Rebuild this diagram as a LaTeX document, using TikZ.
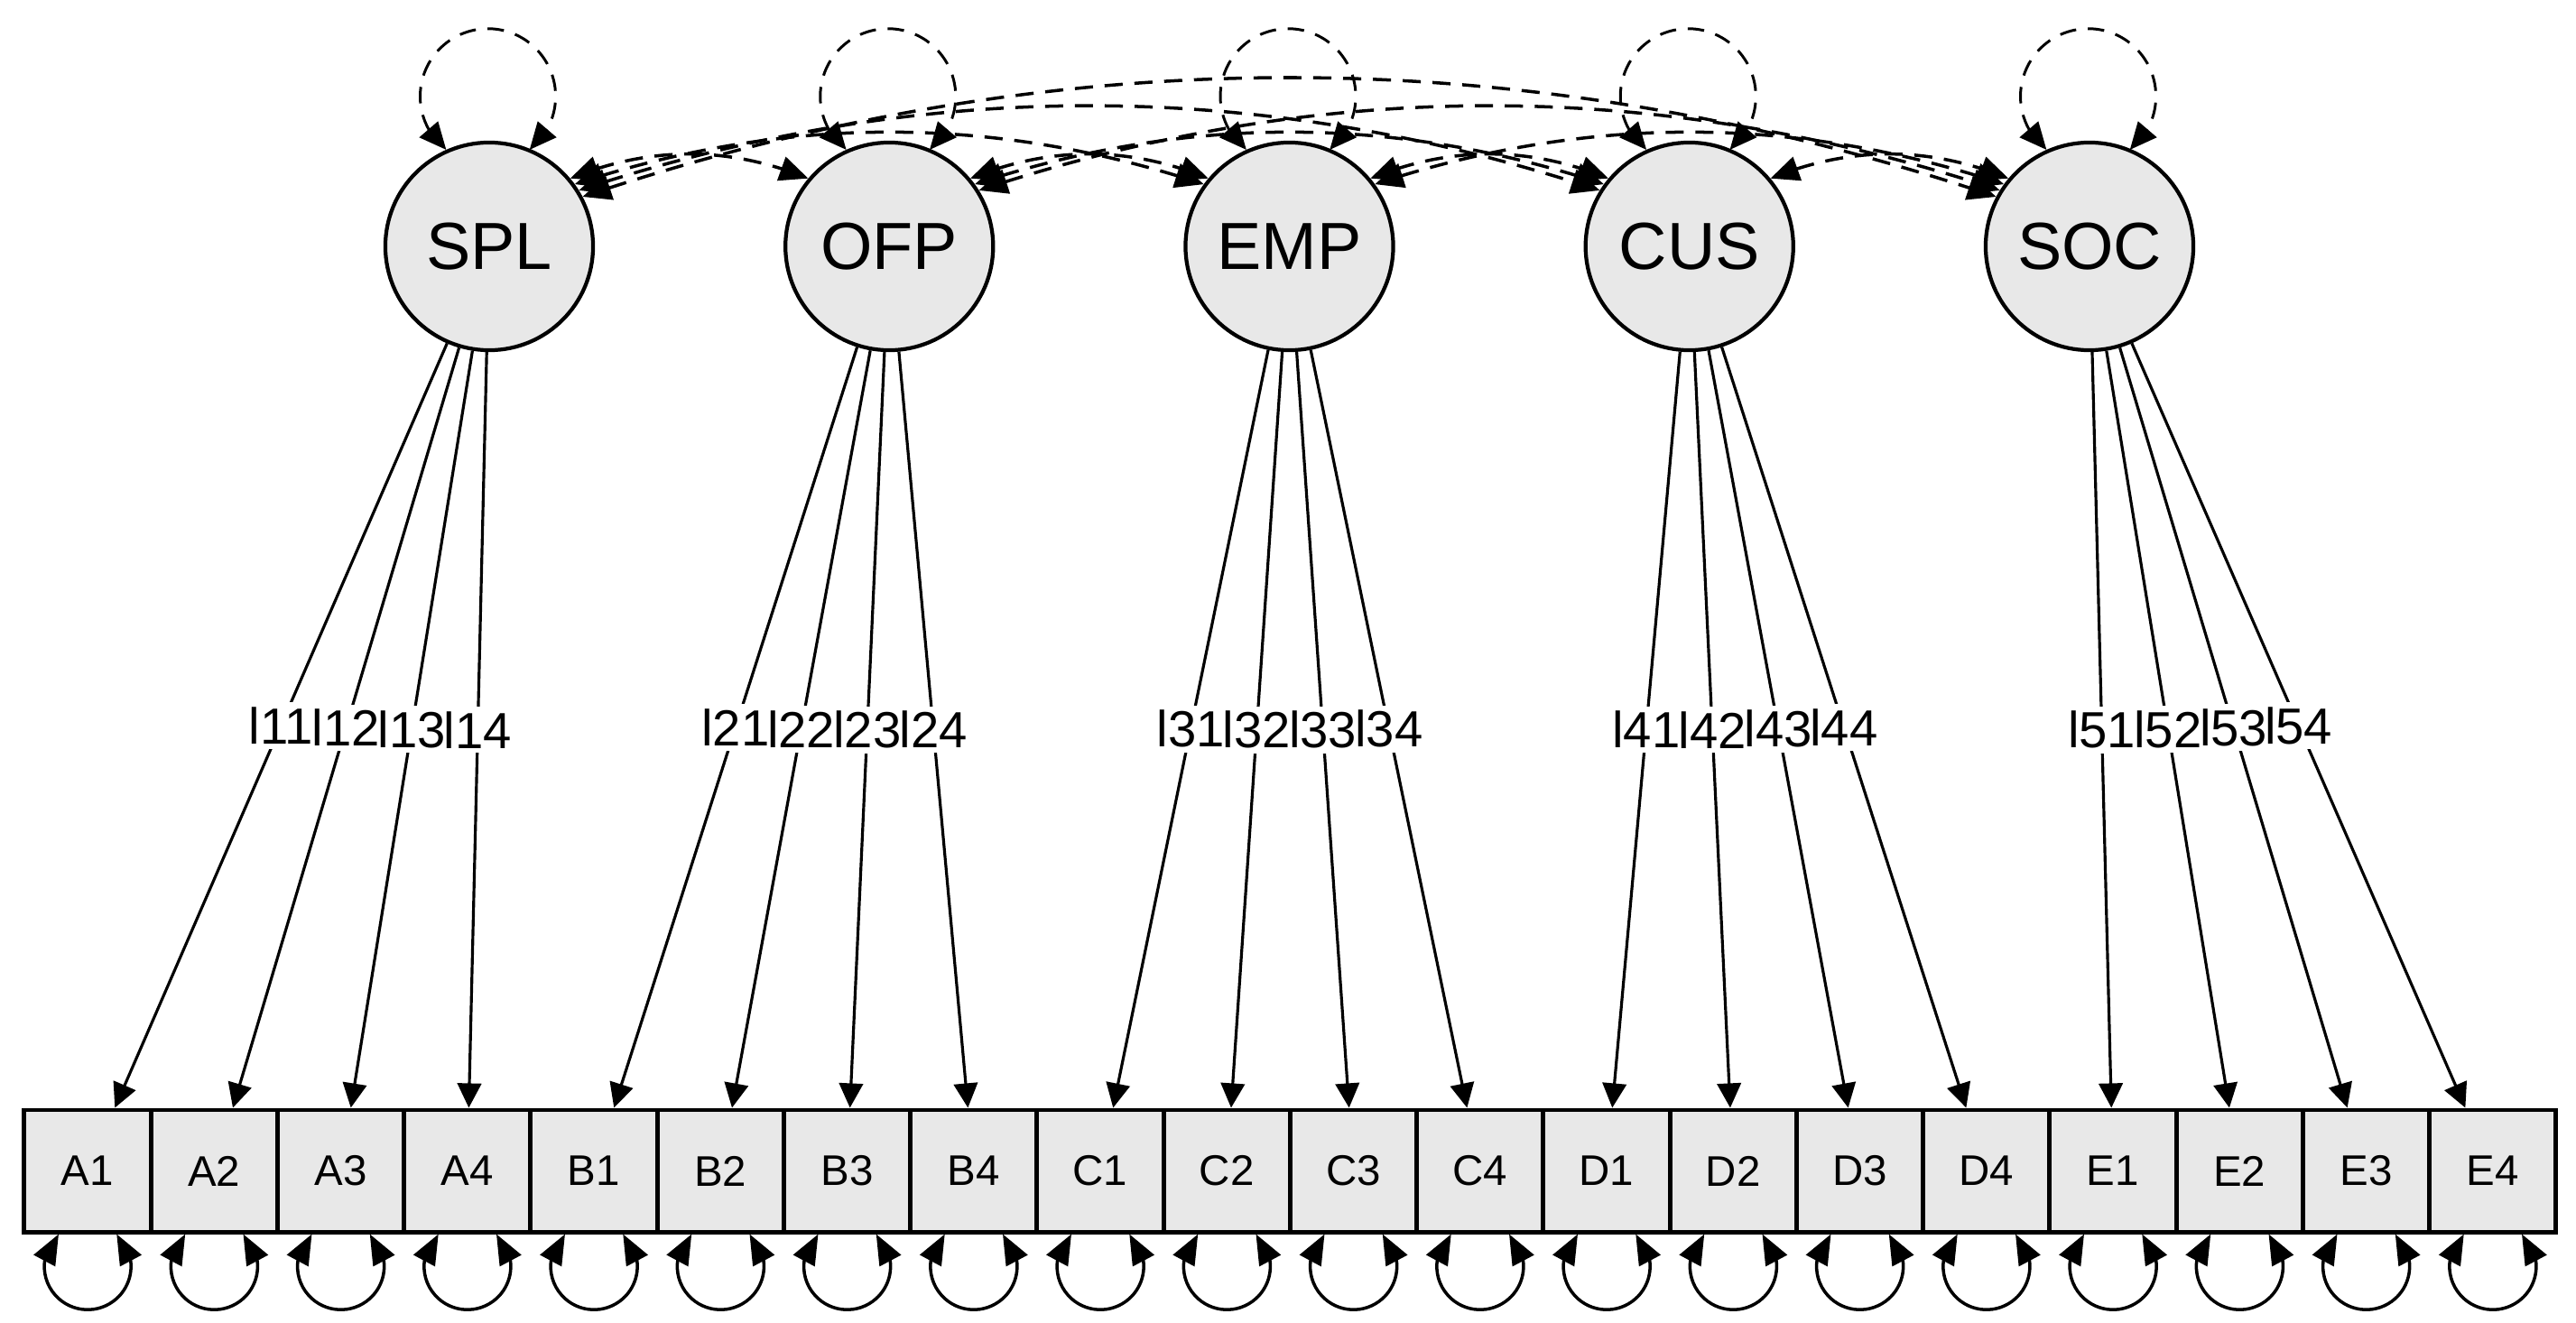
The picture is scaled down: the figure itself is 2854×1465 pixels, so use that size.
\documentclass[tikz,border=0pt]{standalone}
\usepackage{fontspec}
\setmainfont{Liberation Sans}
\usetikzlibrary{arrows.meta,bending}
\definecolor{nodegray}{RGB}{232,232,232}
\tikzset{
  latent/.style={circle, draw, line width=1.2pt, fill=nodegray, minimum size=2.3cm, inner sep=0pt, font=\fontsize{21}{24}\selectfont},
  manifest/.style={rectangle, draw, line width=1.4pt, fill=nodegray, minimum width=1.4025cm, minimum height=1.35cm, inner sep=0pt, font=\fontsize{13.5}{15}\selectfont},
  load/.style={line width=0.9pt, -{Triangle[length=7.7pt,width=7.5pt]}},
  lbl/.style={fill=white, inner xsep=0pt, inner ysep=1.5pt, font=\fontsize{16}{18}\selectfont},
  cov/.style={line width=1pt, dash pattern=on 5.7pt off 3.7pt, {Triangle[length=9pt,width=7.8pt]}-{Triangle[length=9pt,width=7.8pt]}},
  varloop/.style={line width=0.85pt, dash pattern=on 5.2pt off 3.7pt, {Triangle[length=8.5pt,width=7.6pt]}-{Triangle[length=8.5pt,width=7.6pt]}},
  resid/.style={line width=1pt, {Triangle[length=9.5pt,width=7.5pt]}-{Triangle[length=9.5pt,width=7.5pt]}}
}
\begin{document}
\begin{tikzpicture}[x=0.01cm,y=0.01cm]
\useasboundingbox (0,0) rectangle (2854,1465);
% latent variables
\foreach \n [count=\i from 0] in {SPL,OFP,EMP,CUS,SOC}
  \node[latent] (\n) at ({542+443.25*\i},1192) {\n};
% observed variables
\foreach \n [count=\i from 0] in {A1,A2,A3,A4,B1,B2,B3,B4,C1,C2,C3,C4,D1,D2,D3,D4,E1,E2,E3,E4}
  \node[manifest] (\n) at ({97+140.25*\i},167.5) {\n};
% loadings
\foreach \L/\g/\m in {SPL/A/1,OFP/B/2,EMP/C/3,CUS/D/4,SOC/E/5}
  \foreach \k in {1,...,4}
    \draw[load] (\L) -- (\g\k) node[midway,lbl] {l\m\k};
% latent variances
\foreach \n in {SPL,OFP,EMP,CUS,SOC}
  \draw[varloop] (\n.114) arc[start angle=232, end angle=-52, radius=0.75cm];
% residual variances
\foreach \n in {A1,A2,A3,A4,B1,B2,B3,B4,C1,C2,C3,C4,D1,D2,D3,D4,E1,E2,E3,E4}
  \draw[resid] ([xshift=-0.32cm]\n.south) arc[start angle=132, end angle=408, radius=0.48cm];
% covariances
\foreach \a/\b/\sa/\ea/\d/\v in {
  SPL/OFP/40/140/89/36, OFP/EMP/40/140/89/36, EMP/CUS/40/140/89/36, CUS/SOC/40/140/89/36,
  SPL/EMP/36/144/233/77, OFP/CUS/36/144/233/77, EMP/SOC/36/144/233/77,
  SPL/CUS/32/148/378/125, OFP/SOC/32/148/378/125,
  SPL/SOC/28/152/523/176}
  \draw[cov] (\a.\sa) .. controls +(\d,\v) and +(-\d,\v) .. (\b.\ea);
\end{tikzpicture}
\end{document}
